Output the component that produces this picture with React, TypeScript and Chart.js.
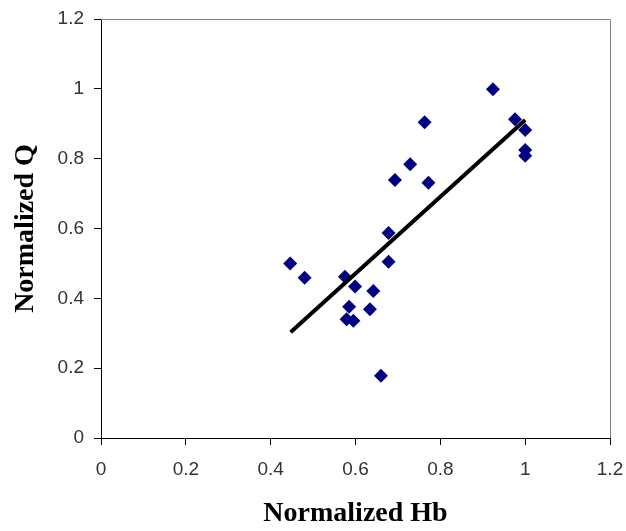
import React, { useEffect, useRef } from "react";
import { Chart, registerables } from "chart.js";

Chart.register(...registerables);

const hbValues = [0.924, 0.976, 1.0, 1.0, 1.0, 0.763, 0.729, 0.693, 0.772, 0.678, 0.678, 0.446, 0.48, 0.575, 0.599, 0.642, 0.585, 0.634, 0.579, 0.595, 0.66];
const qValues = [0.999, 0.913, 0.882, 0.825, 0.808, 0.904, 0.784, 0.739, 0.731, 0.587, 0.505, 0.5, 0.459, 0.462, 0.434, 0.421, 0.376, 0.369, 0.34, 0.336, 0.178];
const fitX = [0.447, 1.0];
const fitY = [0.303, 0.911];

const tickLabels = ["0", "0.2", "0.4", "0.6", "0.8", "1", "1.2"];
const xTitle = "Normalized Hb";
const yTitle = "Normalized Q";

const framePlugin = {
  id: "frame",
  afterDraw(chart: any) {
    const { ctx, chartArea } = chart;
    ctx.save();
    ctx.strokeStyle = "#808080";
    ctx.lineWidth = 1;
    ctx.beginPath();
    ctx.moveTo(chartArea.left, chartArea.top + 0.5);
    ctx.lineTo(chartArea.right + 0.5, chartArea.top + 0.5);
    ctx.lineTo(chartArea.right + 0.5, chartArea.bottom);
    ctx.stroke();
    ctx.restore();
  },
};

const fmt = (v: any) => {
  const i = Math.round(Number(v) / 0.2);
  return tickLabels[i] ?? String(v);
};

export default function App() {
  const ref = useRef<HTMLCanvasElement>(null);
  useEffect(() => {
    if (!ref.current) return;
    const tickFont = { family: "'Liberation Sans', Arial, sans-serif", size: 19 };
    const titleFont = { family: "'Liberation Serif', 'Times New Roman', serif", size: 28, weight: "bold" as const };
    const chart = new Chart(ref.current, {
      type: "scatter",
      data: {
        datasets: [
          {
            type: "line",
            label: "fit",
            data: fitX.map((x, i) => ({ x, y: fitY[i] })),
            borderColor: "#000000",
            borderWidth: 4,
            pointRadius: 0,
            fill: false,
            order: 0,
          } as any,
          {
            label: "data",
            data: hbValues.map((x, i) => ({ x, y: qValues[i] })),
            pointStyle: "rectRot",
            pointRadius: 7,
            backgroundColor: "#000080",
            borderColor: "#000080",
            borderWidth: 0,
            order: 1,
          },
        ],
      },
      options: {
        animation: false,
        responsive: true,
        maintainAspectRatio: false,
        layout: { padding: { top: 19, right: 16, left: 0, bottom: 0 } },
        plugins: { legend: { display: false }, tooltip: { enabled: false } },
        scales: {
          x: {
            type: "linear",
            min: 0,
            max: 1.2,
            ticks: { stepSize: 0.2, font: tickFont, color: "#333", padding: 13, callback: fmt },
            grid: { drawOnChartArea: false, drawTicks: true, tickLength: 7, tickColor: "#000" },
            border: { color: "#000", width: 1 },
            title: { display: true, text: xTitle, font: titleFont, color: "#000", padding: 0 },
            afterFit: (s: any) => { s.height = 93; s.paddingLeft = 0; s.paddingRight = 0; },
          },
          y: {
            type: "linear",
            min: 0,
            max: 1.2,
            ticks: { stepSize: 0.2, font: tickFont, color: "#333", padding: 10, callback: fmt },
            grid: { drawOnChartArea: false, drawTicks: true, tickLength: 7, tickColor: "#000" },
            border: { color: "#000", width: 1 },
            title: { display: true, text: yTitle, font: titleFont, color: "#000", padding: { top: 9, bottom: 0 } },
            afterFit: (s: any) => { s.width = 101; s.paddingTop = 0; s.paddingBottom = 0; },
          },
        },
      },
      plugins: [framePlugin],
    });
    return () => chart.destroy();
  }, []);
  return (
    <div style={{ position: "absolute", left: 0, top: 0, width: 626, height: 531, background: "#fff" }}>
      <canvas ref={ref} />
    </div>
  );
}
